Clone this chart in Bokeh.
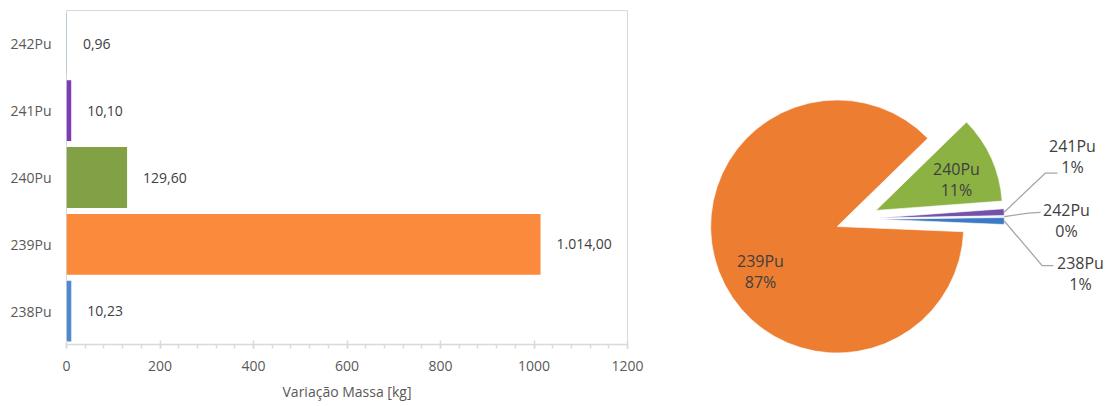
import math
from bokeh.plotting import figure
from bokeh.layouts import row
from bokeh.models import ColumnDataSource, Range1d, FactorRange, FixedTicker
from bokeh.core.properties import value
from bokeh.embed import file_html
from bokeh.resources import INLINE

# ---------------- data ----------------
isotopes = ["238Pu", "239Pu", "240Pu", "241Pu", "242Pu"]
mass_kg = [10.23, 1014.00, 129.60, 10.10, 0.96]
bar_colors = ["#5089D0", "#FB8A3C", "#82A044", "#7B3CB6", "#4BACC6"]
pie_colors = ["#3C7AC4", "#ED7D31", "#8CB243", "#7452A8", "#A9CDEB"]
x_ticks = [0, 200, 400, 600, 800, 1000, 1200]
x_minor_ticks = list(range(0, 1201, 40))
axis_title = "Variação Massa [kg]"

FONT = "Open Sans"
H = 406


def fmt_ptbr(v):
    s = f"{v:,.2f}"
    return s.replace(",", "X").replace(".", ",").replace("X", ".")


# ---------------- bar chart ----------------
bar_src = ColumnDataSource(dict(
    iso=isotopes, mass=mass_kg, color=bar_colors,
    label=[fmt_ptbr(v) for v in mass_kg],
))

p1 = figure(width=660, height=H,
            y_range=FactorRange(factors=isotopes, range_padding=0),
            x_range=Range1d(0, 1200),
            output_backend="svg", toolbar_location=None,
            min_border_left=66, min_border_right=33,
            min_border_top=10, min_border_bottom=62)
p1.frame_align = False
p1.background_fill_color = "white"
p1.border_fill_color = "white"
p1.outline_line_color = "#D9D9D9"
p1.outline_line_width = 1
p1.xgrid.visible = False
p1.ygrid.visible = False

p1.hbar(y="iso", left=0, right="mass", height=0.91, fill_color="color",
        line_color=None, source=bar_src)
p1.text(x="mass", y="iso", text="label", x_offset=16, text_align="left",
        text_baseline="middle", text_font=value(FONT), text_font_size="14px",
        text_color="#404040", source=bar_src)

xa = p1.xaxis[0]
xa.ticker = FixedTicker(ticks=x_ticks, minor_ticks=x_minor_ticks)
xa.axis_line_color = "#D9D9D9"
xa.axis_line_width = 1.5
xa.major_tick_line_color = "#D9D9D9"
xa.major_tick_line_width = 1.5
xa.major_tick_in = 4
xa.major_tick_out = 4
xa.minor_tick_line_color = "#D9D9D9"
xa.minor_tick_line_width = 1.5
xa.minor_tick_in = 0
xa.minor_tick_out = 4
xa.major_label_text_font = FONT
xa.major_label_text_font_size = "14px"
xa.major_label_text_color = "#595959"
xa.major_label_standoff = 12
xa.axis_label = axis_title
xa.axis_label_text_font = FONT
xa.axis_label_text_font_size = "14px"
xa.axis_label_text_font_style = "normal"
xa.axis_label_text_color = "#595959"
xa.axis_label_standoff = 8

ya = p1.yaxis[0]
ya.axis_line_color = None
ya.major_tick_line_color = None
ya.minor_tick_line_color = None
ya.major_tick_out = 0
ya.major_tick_in = 0
ya.major_label_text_font = FONT
ya.major_label_text_font_size = "14px"
ya.major_label_text_color = "#595959"
ya.major_label_standoff = 15

# ---------------- pie chart ----------------
# data coordinates of the pie panel are page pixels (x right, y up from page bottom)
W2 = 451
X0 = 660
p2 = figure(width=W2, height=H, x_range=Range1d(X0, X0 + W2), y_range=Range1d(0, H),
            output_backend="svg", toolbar_location=None, min_border=0,
            x_axis_type=None, y_axis_type=None)
p2.frame_align = False
p2.outline_line_color = None
p2.background_fill_color = "white"
p2.border_fill_color = "white"
p2.grid.visible = False

CX, CY = 856.3, H - 218.5   # pie centre
R = 126.5                   # radius
EXPLODE = 21.0              # explosion distance
FIRST = 0.8                 # start angle (deg, math convention), slices run clockwise

total = sum(mass_kg)
fracs = [v / total for v in mass_kg]
pcts = [f"{round(f * 100)}%" for f in fracs]

xs, ys, starts, ends, mids = [], [], [], [], []
cum = 0.0
for f in fracs:
    hi = FIRST - cum * 360.0
    lo = FIRST - (cum + f) * 360.0
    cum += f
    mid = math.radians((lo + hi) / 2)
    mids.append(mid)
    starts.append(math.radians(lo))
    ends.append(math.radians(hi))
    xs.append(CX + EXPLODE * math.cos(mid))
    ys.append(CY + EXPLODE * math.sin(mid))

pie_src = ColumnDataSource(dict(x=xs, y=ys, s=starts, e=ends, color=pie_colors))
p2.wedge(x="x", y="y", radius=R, start_angle="s", end_angle="e", direction="anticlock",
         fill_color="color", line_color="white", line_width=0.6, source=pie_src)

# label placement (polar around pie centre: distance, angle deg)
label_dist = [230.1, 109.9, 107.2, 224.6, 209.7]
label_ang = [-13.6, 208.8, 21.6, 16.2, -0.4]
# leader line elbow/end offsets relative to label centre (screen px: dx, dy-down); None = inside
leader = [((-38.3, -7.5), (-27, -7.5)), None, None,
          ((-27, 16.7), (-15, 16.7)), ((-38, -7.3), (-26, -8))]

lx = [CX + d * math.cos(math.radians(a)) for d, a in zip(label_dist, label_ang)]
ly = [CY + d * math.sin(math.radians(a)) for d, a in zip(label_dist, label_ang)]

for i in range(len(isotopes)):
    if leader[i] is None:
        continue
    tipx = xs[i] + R * math.cos(mids[i])
    tipy = ys[i] + R * math.sin(mids[i])
    (ex, ey), (fx, fy) = leader[i]
    p2.line([tipx, lx[i] + ex, lx[i] + fx], [tipy, ly[i] - ey, ly[i] - fy],
            line_color="#A6A6A6", line_width=1.3)

lab_src = ColumnDataSource(dict(
    x=lx, yn=[y + 10.5 for y in ly], yp=[y - 10.5 for y in ly],
    name=isotopes, pct=pcts))
for col, key in (("yn", "name"), ("yp", "pct")):
    p2.text(x="x", y=col, text=key, text_align="center", text_baseline="middle",
            text_font=value(FONT), text_font_size="16px", text_color="#404040",
            source=lab_src)

layout = row(p1, p2)
open("out.html", "w").write(file_html(layout, INLINE))
